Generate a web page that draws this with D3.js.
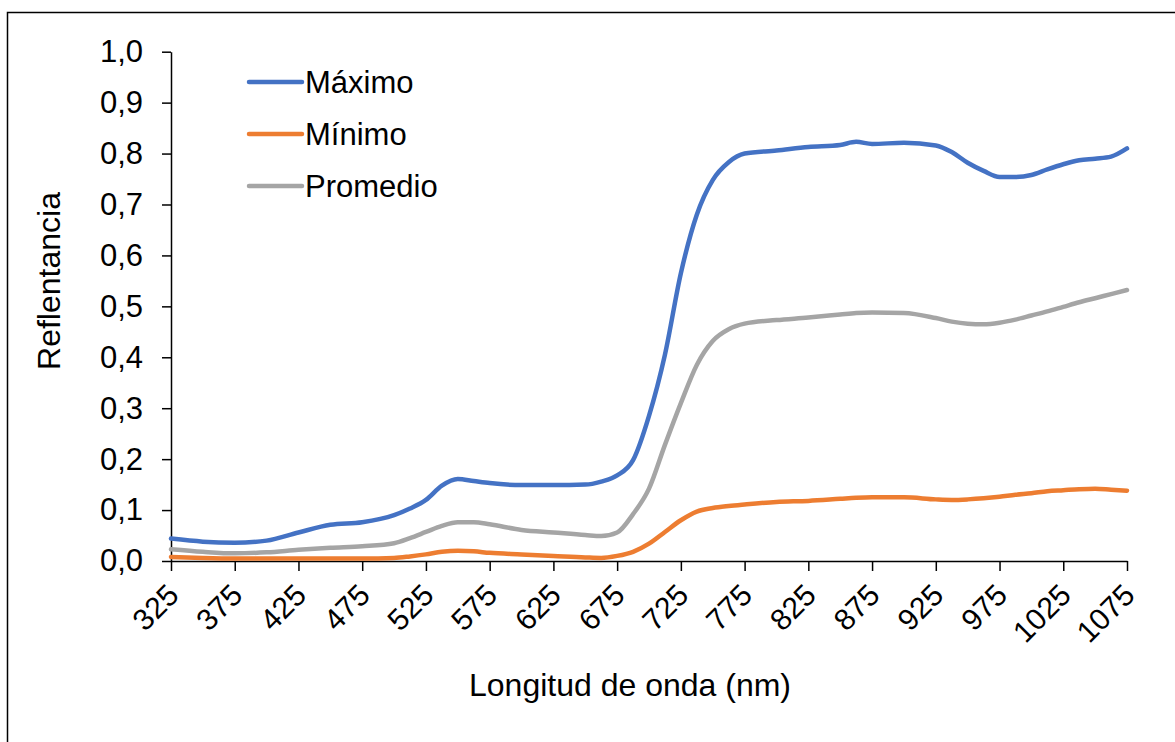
<!DOCTYPE html>
<html>
<head>
<meta charset="utf-8">
<script src="https://cdn.jsdelivr.net/npm/d3@7"></script>
<style>
  html, body { margin: 0; padding: 0; background: #fff; }
  svg { display: block; font-family: "Liberation Sans", Arial, sans-serif; }
</style>
</head>
<body>
<svg id="chart" width="1175" height="742"></svg>
<script>
// Wavelengths (nm) shared by all three reflectance series
const wavelengths = [325,350,375,400,425,450,475,500,512.5,525,537.5,550,562.5,575,600,625,650,662.5,675,687.5,700,712.5,725,737.5,750,762.5,775,800,825,850,862.5,875,900,925,937.5,950,962.5,975,987.5,1000,1012.5,1025,1037.5,1050,1062.5,1075];

const maximo = [0.044,0.038,0.036,0.040,0.056,0.071,0.076,0.090,0.103,0.120,0.148,0.161,0.157,0.153,0.149,0.149,0.150,0.156,0.168,0.198,0.285,0.405,0.565,0.680,0.748,0.783,0.800,0.806,0.813,0.817,0.823,0.819,0.821,0.816,0.803,0.782,0.766,0.754,0.754,0.758,0.769,0.779,0.787,0.790,0.794,0.810];

const minimo = [0.008,0.006,0.005,0.005,0.005,0.005,0.005,0.006,0.009,0.013,0.018,0.020,0.019,0.016,0.013,0.010,0.007,0.006,0.010,0.018,0.034,0.057,0.080,0.097,0.104,0.108,0.111,0.116,0.118,0.122,0.124,0.125,0.125,0.121,0.120,0.121,0.123,0.126,0.130,0.133,0.137,0.139,0.141,0.142,0.140,0.138];

const promedio = [0.023,0.018,0.015,0.017,0.022,0.026,0.029,0.035,0.045,0.057,0.069,0.076,0.076,0.072,0.061,0.056,0.051,0.049,0.056,0.092,0.142,0.228,0.310,0.385,0.432,0.455,0.466,0.473,0.478,0.484,0.487,0.488,0.487,0.477,0.470,0.466,0.465,0.468,0.474,0.482,0.490,0.499,0.508,0.516,0.524,0.532];

const xTicks = [325,375,425,475,525,575,625,675,725,775,825,875,925,975,1025,1075];
const yTicks = [0,0.1,0.2,0.3,0.4,0.5,0.6,0.7,0.8,0.9,1.0];

const seriesNames = ["Máximo", "Mínimo", "Promedio"];
const seriesColors = ["#4472C4", "#ED7D31", "#A5A5A5"];
const seriesValues = [maximo, minimo, promedio];

const FONT = "'Liberation Sans', Arial, sans-serif";
const svg = d3.select("#chart");

// Outer chart frame
svg.append("rect")
  .attr("x", 7.5).attr("y", 12.5)
  .attr("width", 1300).attr("height", 900)
  .attr("fill", "none").attr("stroke", "#000").attr("stroke-width", 1.5);

const x = d3.scaleLinear().domain([325, 1075]).range([171, 1127]);
const y = d3.scaleLinear().domain([0, 1]).range([561, 51.7]);

const fmt = d => d3.format(".1f")(d).replace(".", ",");

// Y axis
const yAxis = svg.append("g")
  .attr("transform", "translate(171,0)")
  .call(d3.axisLeft(y).tickValues(yTicks).tickFormat(fmt).tickSize(9).tickPadding(19).tickSizeOuter(0));
yAxis.select(".domain").attr("stroke", "#000").attr("stroke-width", 1.5);
yAxis.selectAll(".tick line").attr("stroke", "#000").attr("stroke-width", 1.5);
yAxis.selectAll(".tick text").attr("font-size", 31).attr("fill", "#000")
  .attr("font-family", FONT);

// X axis
const xAxis = svg.append("g")
  .attr("transform", "translate(0,561)")
  .call(d3.axisBottom(x).tickValues(xTicks).tickFormat(d3.format("d")).tickSize(10).tickSizeOuter(0));
xAxis.select(".domain").attr("stroke", "#000").attr("stroke-width", 1.5);
xAxis.selectAll(".tick line").attr("stroke", "#000").attr("stroke-width", 1.5);
xAxis.selectAll(".tick text")
  .attr("font-size", 30).attr("fill", "#000")
  .attr("font-family", FONT)
  .attr("text-anchor", "end")
  .attr("dy", "0")
  .attr("transform", "translate(9,36) rotate(-45)")
  .attr("y", 0).attr("x", 0);

// Axis titles
svg.append("text")
  .attr("transform", "translate(60,281) rotate(-90)")
  .attr("text-anchor", "middle")
  .attr("font-size", 32).attr("fill", "#000")
  .attr("font-family", FONT)
  .text("Reflentancia");

svg.append("text")
  .attr("x", 630).attr("y", 696)
  .attr("text-anchor", "middle")
  .attr("font-size", 32).attr("fill", "#000")
  .attr("font-family", FONT)
  .text("Longitud de onda (nm)");

// Series lines
const line = d3.line()
  .x((d, i) => x(wavelengths[i]))
  .y(d => y(d))
  .curve(d3.curveMonotoneX);

seriesValues.forEach((vals, k) => {
  svg.append("path")
    .datum(vals)
    .attr("d", line)
    .attr("fill", "none")
    .attr("stroke", seriesColors[k])
    .attr("stroke-width", 4.5)
    .attr("stroke-linejoin", "round")
    .attr("stroke-linecap", "round");
});

// Legend
const legend = svg.append("g");
seriesNames.forEach((name, k) => {
  const ly = 82 + k * 52;
  legend.append("line")
    .attr("x1", 249).attr("x2", 302)
    .attr("y1", ly).attr("y2", ly)
    .attr("stroke", seriesColors[k]).attr("stroke-width", 4.5)
    .attr("stroke-linecap", "round");
  legend.append("text")
    .attr("x", 305).attr("y", ly)
    .attr("dy", "0.35em")
    .attr("font-size", 31).attr("fill", "#000")
    .attr("font-family", FONT)
    .text(name);
});
</script>
</body>
</html>
